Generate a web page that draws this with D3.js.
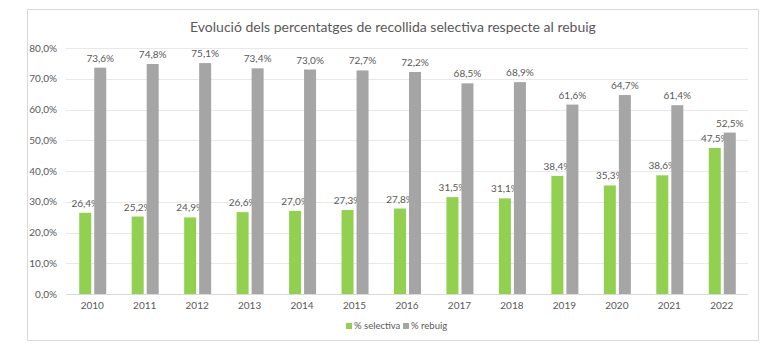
<!DOCTYPE html>
<html><head><meta charset="utf-8">
<script src="https://cdn.jsdelivr.net/npm/d3@7"></script>
<style>body{margin:0;background:#fff}svg{display:block}</style>
</head><body>
<script>
const years = ["2010","2011","2012","2013","2014","2015","2016","2017","2018","2019","2020","2021","2022"];
const selectiva = [26.4,25.2,24.9,26.6,27.0,27.3,27.8,31.5,31.1,38.4,35.3,38.6,47.5];
const rebuig = [73.6,74.8,75.1,73.4,73.0,72.7,72.2,68.5,68.9,61.6,64.7,61.4,52.5];
const seriesNames = ["% selectiva","% rebuig"];
const colors = ["#92d050","#a5a5a5"];
const yTicks = [0,10,20,30,40,50,60,70,80];
const title = "Evolució dels percentatges de recollida selectiva respecte al rebuig";

const W=776,H=349;
const font="Lato, 'Open Sans', sans-serif";
const svg=d3.select("body").append("svg").attr("width",W).attr("height",H);
svg.append("rect").attr("x",27.5).attr("y",9.5).attr("width",731).attr("height",331)
  .attr("fill","#fff").attr("stroke","#d9d9d9");
svg.append("text").attr("x",393).attr("y",32).attr("text-anchor","middle")
  .attr("font-family",font).attr("font-size",14).attr("fill","#595959").text(title);

const x=d3.scaleBand().domain(years).range([66,748]);
const y=d3.scaleLinear().domain([0,80]).range([294,48]);
const fmt=v=>d3.format(".1f")(v).replace(".",",")+"%";

const g=svg.append("g");
g.selectAll("line.grid").data(yTicks).join("line").attr("class","grid")
  .attr("x1",66).attr("x2",748).attr("y1",d=>Math.round(y(d))+0.5).attr("y2",d=>Math.round(y(d))+0.5)
  .attr("stroke",d=>d===0?"#d9d9d9":"#e8e8e8");
g.selectAll("text.yl").data(yTicks).join("text").attr("class","yl")
  .attr("x",57).attr("y",d=>y(d)+3.5).attr("text-anchor","end")
  .attr("font-family",font).attr("font-size",10).attr("fill","#595959").text(d=>fmt(d));
g.selectAll("text.xl").data(years).join("text").attr("class","xl")
  .attr("x",d=>x(d)+x.bandwidth()/2).attr("y",309).attr("text-anchor","middle")
  .attr("font-family",font).attr("font-size",10).attr("fill","#595959").text(d=>d);

const bw=12, gap=3;
const sets=[selectiva,rebuig];
sets.forEach((vals,si)=>{
  const off = si===0 ? -bw-gap/2+0.5 : gap/2+0.5;
  g.selectAll("rect.b"+si).data(vals).join("rect").attr("class","b"+si)
    .attr("x",(d,i)=>x(years[i])+x.bandwidth()/2+off)
    .attr("y",d=>y(d)).attr("width",bw).attr("height",d=>y(0)-y(d))
    .attr("fill",colors[si]);
  g.selectAll("text.l"+si).data(vals).join("text").attr("class","l"+si)
    .attr("x",(d,i)=>x(years[i])+x.bandwidth()/2+off+bw/2)
    .attr("y",d=>y(d)-6).attr("text-anchor","middle")
    .attr("font-family",font).attr("font-size",10).attr("fill","#595959").text(d=>fmt(d));
});

const leg=svg.append("g");
const lx=[346,403];
seriesNames.forEach((n,i)=>{
  leg.append("rect").attr("x",lx[i]).attr("y",323).attr("width",6).attr("height",6).attr("fill",colors[i]);
  leg.append("text").attr("x",lx[i]+8).attr("y",329).attr("font-family",font).attr("font-size",9.5)
    .attr("fill","#595959").text(n);
});
</script>
</body></html>
